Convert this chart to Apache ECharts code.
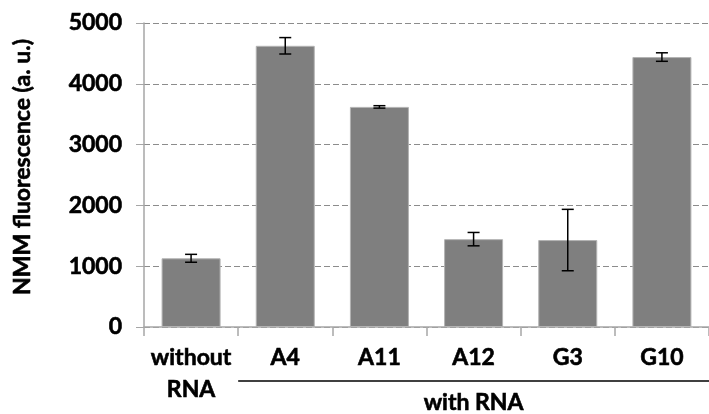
<!DOCTYPE html>
<html>
<head>
<meta charset="utf-8">
<script src="https://cdn.jsdelivr.net/npm/echarts@6/dist/echarts.min.js"></script>
<style>
  html, body { margin: 0; padding: 0; background: #fff; }
  #chart { width: 709px; height: 414px; }
</style>
</head>
<body>
<div id="chart"></div>
<script>
// Sample names on the x axis ("\n" splits a label over two lines)
var categories = ['without\nRNA', 'A4', 'A11', 'A12', 'G3', 'G10'];
// Mean NMM fluorescence per sample (a. u.)
var fluorescence = [1130, 4625, 3620, 1445, 1430, 4440];
// Standard deviation per sample (a. u.)
var errors = [65, 135, 20, 110, 505, 70];
// Y axis scale
var yTicks = [0, 1000, 2000, 3000, 4000, 5000];
// Group caption beneath the RNA samples
var groupLabel = 'with RNA';
var groupFirst = 1;
var groupLast = 5;
var yTitle = 'NMM fluorescence (a. u.)';

var FONT = 'Lato, "Open Sans", sans-serif';
// a hairline outline of the glyphs gives the heavier bold look
var HEAVY = { textBorderColor: '#000', textBorderWidth: 0.6 };

var errorData = fluorescence.map(function (v, i) {
  return [i, v - errors[i], v + errors[i]];
});

var chart = echarts.init(document.getElementById('chart'), null, { renderer: 'canvas' });

var option = {
  animation: false,
  backgroundColor: '#ffffff',
  grid: { left: 144, top: 23, width: 569, height: 304, containLabel: false },
  xAxis: {
    type: 'category',
    data: categories,
    boundaryGap: true,
    axisLine: { show: true, lineStyle: { color: '#a6a6a6', width: 1.5 } },
    axisTick: { show: true, interval: 0, length: 9, lineStyle: { color: '#a6a6a6', width: 1.5 } },
    axisLabel: Object.assign({
      interval: 0,
      margin: 15,
      color: '#000',
      fontFamily: FONT,
      fontWeight: 'bold',
      fontSize: 23,
      lineHeight: 32
    }, HEAVY),
    splitLine: { show: false }
  },
  yAxis: {
    type: 'value',
    min: yTicks[0],
    max: yTicks[yTicks.length - 1],
    interval: yTicks[1] - yTicks[0],
    axisLine: { show: true, lineStyle: { color: '#a6a6a6', width: 1.5 } },
    axisTick: { show: true, length: 8, lineStyle: { color: '#a6a6a6', width: 1 } },
    axisLabel: Object.assign({
      margin: 22,
      color: '#000',
      fontFamily: FONT,
      fontWeight: 'bold',
      fontSize: 23,
      formatter: function (v) { return String(v); }
    }, HEAVY),
    splitLine: { show: true, lineStyle: { color: '#8c8c8c', width: 1, type: [6, 3] } }
  },
  series: [
    {
      type: 'bar',
      data: fluorescence,
      barWidth: 59,
      itemStyle: { color: '#7f7f7f', borderColor: '#b3b3b3', borderWidth: 1 },
      z: 2
    },
    {
      type: 'custom',
      data: errorData,
      z: 5,
      renderItem: function (params, api) {
        var x = api.value(0);
        var lo = api.coord([x, api.value(1)]);
        var hi = api.coord([x, api.value(2)]);
        var cap = 6;
        var style = { stroke: '#000', lineWidth: 1.5 };
        return {
          type: 'group',
          children: [
            { type: 'line', shape: { x1: lo[0], y1: lo[1], x2: hi[0], y2: hi[1] }, style: style },
            { type: 'line', shape: { x1: hi[0] - cap, y1: hi[1], x2: hi[0] + cap, y2: hi[1] }, style: style },
            { type: 'line', shape: { x1: lo[0] - cap, y1: lo[1], x2: lo[0] + cap, y2: lo[1] }, style: style }
          ]
        };
      }
    }
  ]
};

chart.setOption(option);

// Bracket line and captions, placed from the axis scales
var c0 = chart.convertToPixel({ xAxisIndex: 0 }, groupFirst);
var c1 = chart.convertToPixel({ xAxisIndex: 0 }, groupFirst + 1);
var cN = chart.convertToPixel({ xAxisIndex: 0 }, groupLast);
var band = c1 - c0;
var gx0 = c0 - band / 2;
var gx1 = cN + band / 2;
var axisY = chart.convertToPixel({ yAxisIndex: 0 }, yTicks[0]);
var plotTop = chart.convertToPixel({ yAxisIndex: 0 }, yTicks[yTicks.length - 1]);

chart.setOption({
  graphic: [
    {
      type: 'line',
      shape: { x1: gx0, y1: axisY + 54, x2: gx1, y2: axisY + 54 },
      style: { stroke: '#000', lineWidth: 1.5 }
    },
    {
      type: 'text',
      x: (gx0 + gx1) / 2,
      y: axisY + 76,
      style: Object.assign({
        text: groupLabel,
        fill: '#000',
        fontFamily: FONT,
        fontWeight: 'bold',
        fontSize: 23,
        align: 'center',
        verticalAlign: 'middle'
      }, { stroke: '#000', lineWidth: 0.6 })
    },
    {
      type: 'text',
      x: 23,
      y: (axisY + plotTop) / 2 - 8,
      rotation: Math.PI / 2,
      style: Object.assign({
        text: yTitle,
        fill: '#000',
        fontFamily: FONT,
        fontWeight: 'bold',
        fontSize: 23,
        align: 'center',
        verticalAlign: 'middle'
      }, { stroke: '#000', lineWidth: 0.6 })
    }
  ]
});
</script>
</body>
</html>
